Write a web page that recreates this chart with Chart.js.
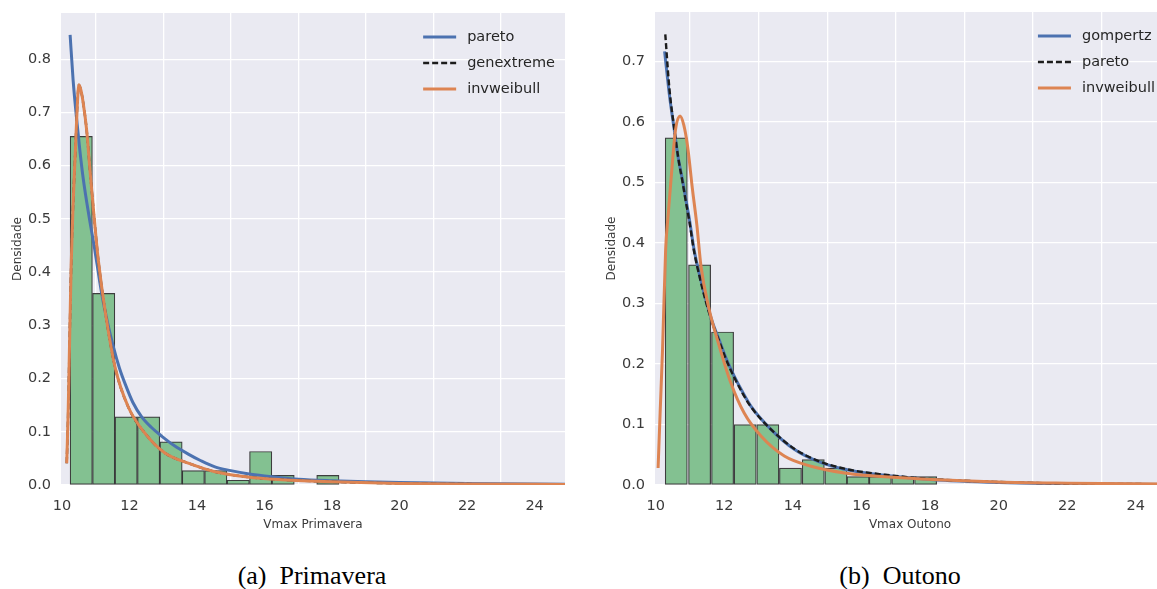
<!DOCTYPE html>
<html>
<head>
<meta charset="utf-8">
<script src="https://cdn.jsdelivr.net/npm/chart.js@4.4.0/dist/chart.umd.min.js"></script>
<style>
  html, body { margin: 0; padding: 0; background: #fff; width: 1157px; height: 589px; overflow: hidden; }
  .panel { position: absolute; top: 0; }
  #c-prim { left: 0; }
  #c-out { left: 590px; }
  .caption { position: absolute; top: 561px; font: 26px "Liberation Serif", "Times New Roman", serif; color: #000; white-space: pre; transform: translateX(-50%); }
</style>
</head>
<body>
<canvas id="c-prim" class="panel" width="580" height="540"></canvas>
<canvas id="c-out" class="panel" width="600" height="540"></canvas>
<div class="caption" style="left:312px">(a)  Primavera</div>
<div class="caption" style="left:900px">(b)  Outono</div>

<script>
// ---- Primavera: histogram (bin edges + density) and fitted pdfs ----
const primEdges   = [10.24, 10.90, 11.57, 12.23, 12.90, 13.56, 14.22, 14.89, 15.55, 16.22, 16.88, 17.54, 18.21];
const primDensity = [0.655, 0.360, 0.128, 0.128, 0.081, 0.027, 0.027, 0.009, 0.063, 0.018, 0.000, 0.018];

const primParetoX = [10.24, 10.33, 10.43, 10.53, 10.63, 10.80, 10.95, 11.17, 11.35, 11.52, 11.70, 11.87, 12.10, 12.36, 12.65, 12.95, 13.30, 13.74, 14.10, 14.53, 15.00, 15.50, 16.00, 17.00, 18.00, 19.00, 20.00, 22.00, 24.90];
const primParetoY = [0.846, 0.760, 0.690, 0.628, 0.575, 0.505, 0.450, 0.362, 0.305, 0.260, 0.220, 0.190, 0.155, 0.128, 0.108, 0.092, 0.075, 0.058, 0.046, 0.034, 0.027, 0.021, 0.017, 0.011, 0.008, 0.006, 0.0045, 0.0028, 0.0015];

const primInvX = [10.14, 10.18, 10.21, 10.27, 10.33, 10.39, 10.45, 10.50, 10.56, 10.63, 10.73, 10.83, 10.90, 11.00, 11.08, 11.27, 11.57, 11.96, 12.46, 13.05, 13.74, 14.53, 15.50, 16.50, 18.00, 20.00, 22.00, 24.90];
const primInvY = [0.041, 0.130, 0.222, 0.410, 0.530, 0.620, 0.710, 0.752, 0.742, 0.717, 0.667, 0.590, 0.540, 0.470, 0.420, 0.330, 0.222, 0.147, 0.097, 0.060, 0.041, 0.025, 0.015, 0.010, 0.006, 0.003, 0.0018, 0.001];

// genextreme runs underneath invweibull over the whole range
const primGevX = primInvX;
const primGevY = primInvY;

// ---- Outono ----
const outEdges   = [10.26, 10.94, 11.62, 12.28, 12.94, 13.60, 14.26, 14.93, 15.58, 16.22, 16.88, 17.53, 18.21];
const outDensity = [0.574, 0.364, 0.253, 0.100, 0.100, 0.028, 0.042, 0.028, 0.014, 0.014, 0.014, 0.014];

const outGompX = [10.26, 10.40, 10.54, 10.66, 10.78, 10.88, 10.97, 11.12, 11.29, 11.46, 11.65, 11.85, 12.05, 12.29, 12.53, 12.78, 13.36, 14.04, 14.73, 15.50, 16.68, 18.00, 20.00, 22.00, 24.90];
const outGompY = [0.717, 0.645, 0.588, 0.540, 0.505, 0.472, 0.444, 0.389, 0.345, 0.307, 0.270, 0.240, 0.210, 0.180, 0.154, 0.130, 0.092, 0.059, 0.039, 0.026, 0.016, 0.009, 0.004, 0.002, 0.001];

const outParetoX = [10.28, 10.40, 10.54, 10.66, 10.78, 10.88, 10.97, 11.12, 11.29, 11.46, 11.65, 11.85, 12.05, 12.29, 12.53, 12.78, 13.36, 14.04, 14.73, 15.50, 16.68, 18.00, 20.00, 22.00, 24.90];
const outParetoY = [0.745, 0.655, 0.590, 0.540, 0.502, 0.468, 0.440, 0.386, 0.342, 0.304, 0.268, 0.238, 0.208, 0.178, 0.152, 0.129, 0.092, 0.060, 0.040, 0.027, 0.017, 0.010, 0.005, 0.0025, 0.0013];

const outInvX = [10.07, 10.13, 10.20, 10.29, 10.36, 10.44, 10.58, 10.71, 10.82, 10.93, 11.07, 11.20, 11.32, 11.56, 11.80, 12.19, 12.58, 13.07, 13.75, 14.53, 15.50, 17.16, 20.00, 22.00, 24.90];
const outInvY = [0.028, 0.120, 0.224, 0.389, 0.444, 0.500, 0.588, 0.610, 0.595, 0.560, 0.490, 0.430, 0.362, 0.290, 0.240, 0.169, 0.119, 0.081, 0.048, 0.031, 0.020, 0.012, 0.005, 0.003, 0.0015];

// ---- styling ----
const BLUE = "#4C72B0", ORANGE = "#DD8452", DASH = "#1c1c1c";
const BAR_FILL = "rgb(131,193,145)", BAR_EDGE = "rgba(30,30,30,0.85)";
const AX_BG = "#EAEAF2", TICK_COL = "#3a3a3a";
const FAMILY = "'DejaVu Sans', sans-serif";

const pts = (xs, ys) => xs.map((x, i) => ({ x, y: ys[i] }));

// seaborn-style grey panel behind the data
const panelBg = {
  id: "panelBg",
  beforeDraw(chart) {
    const { ctx, chartArea: a } = chart;
    ctx.save();
    ctx.fillStyle = AX_BG;
    ctx.fillRect(a.left, a.top, a.right - a.left, a.bottom - a.top);
    ctx.restore();
  },
};

// frameless legend pinned to the upper-right corner of the plot area
const cornerLegend = {
  id: "cornerLegend",
  afterDatasetsDraw(chart, args, opts) {
    const { ctx, chartArea: a } = chart;
    const items = chart.data.datasets.filter(d => d.type === "line");
    ctx.save();
    ctx.font = `14.5px ${FAMILY}`;
    const textW = Math.max(...items.map(d => ctx.measureText(d.label).width));
    const x0 = a.right - opts.inset - textW - opts.gap - opts.sample;
    items.forEach((d, i) => {
      const y = a.top + opts.firstRow + i * opts.rowGap;
      ctx.strokeStyle = d.borderColor;
      ctx.lineWidth = d.borderWidth;
      ctx.setLineDash(d.borderDash || []);
      ctx.beginPath(); ctx.moveTo(x0, y); ctx.lineTo(x0 + opts.sample, y); ctx.stroke();
      ctx.setLineDash([]);
      ctx.fillStyle = "#262626";
      ctx.textBaseline = "middle";
      ctx.fillText(d.label, x0 + opts.sample + opts.gap, y);
    });
    ctx.restore();
  },
};

function curve(label, xs, ys, color, order, dash) {
  return {
    type: "line", label, data: pts(xs, ys), order,
    borderColor: color, borderWidth: dash ? 2.4 : 3, borderDash: dash || [],
    pointRadius: 0, cubicInterpolationMode: "monotone", fill: false,
  };
}

function panelChart(id, o) {
  const canvas = document.getElementById(id);
  const W = canvas.width, H = canvas.height;
  const centers = o.edges.slice(0, -1).map((e, i) => (e + o.edges[i + 1]) / 2);
  const tickFont = { family: FAMILY, size: 14.5 };
  const grid = { color: "#ffffff", lineWidth: 1.3, drawTicks: false };

  return new Chart(canvas, {
    type: "bar",
    data: {
      datasets: [
        {
          type: "bar", label: "hist", data: pts(centers, o.density), order: 10,
          backgroundColor: BAR_FILL, borderColor: BAR_EDGE, borderWidth: 1.2, borderSkipped: false,
          barPercentage: 1, categoryPercentage: 1,
        },
        ...o.curves,
      ],
    },
    options: {
      responsive: false, animation: false, devicePixelRatio: 1,
      layout: { padding: { left: 4, top: o.area.top, right: W - o.area.right, bottom: 0 } },
      plugins: {
        legend: { display: false }, tooltip: { enabled: false },
        cornerLegend: { inset: 10, sample: 33, gap: 11, firstRow: 24, rowGap: 26 },
      },
      scales: {
        x: {
          type: "linear", min: o.xMin, max: o.xMax, offset: false,
          grid, border: { display: false },
          ticks: { stepSize: 2, includeBounds: false, autoSkip: false, maxRotation: 0, padding: 13, color: TICK_COL, font: tickFont },
          title: { display: true, text: o.xTitle, color: TICK_COL, font: { family: FAMILY, size: 12 }, padding: { top: 0, bottom: 8 } },
          afterFit(s) { s.height = H - o.area.bottom; s.paddingLeft = 0; s.paddingRight = 0; },
        },
        y: {
          min: 0, max: o.yMax,
          grid, border: { display: false },
          ticks: { stepSize: 0.1, includeBounds: false, padding: 10, color: TICK_COL, font: tickFont, callback: v => v.toFixed(1) },
          title: { display: true, text: "Densidade", color: TICK_COL, font: { family: FAMILY, size: 12 }, padding: { top: o.yTitlePad, bottom: 0 } },
          afterFit(s) { s.width = o.area.left - 4; s.paddingTop = 0; s.paddingBottom = 0; },
        },
      },
    },
    plugins: [panelBg, cornerLegend],
  });
}

panelChart("c-prim", {
  edges: primEdges, density: primDensity,
  xMin: 9.97, xMax: 24.9, yMax: 0.887, xTitle: "Vmax Primavera", yTitlePad: 7,
  area: { left: 61, right: 565, top: 13, bottom: 485 },
  curves: [
    curve("pareto", primParetoX, primParetoY, BLUE, 3),
    curve("genextreme", primGevX, primGevY, DASH, 2, [6, 3]),
    curve("invweibull", primInvX, primInvY, ORANGE, 1),
  ],
});

panelChart("c-out", {
  edges: outEdges, density: outDensity,
  xMin: 9.98, xMax: 24.85, yMax: 0.782, xTitle: "Vmax Outono", yTitlePad: 11,
  area: { left: 65, right: 575, top: 12, bottom: 485 },
  curves: [
    curve("gompertz", outGompX, outGompY, BLUE, 3),
    curve("pareto", outParetoX, outParetoY, DASH, 2, [6, 3]),
    curve("invweibull", outInvX, outInvY, ORANGE, 1),
  ],
});
</script>
</body>
</html>
